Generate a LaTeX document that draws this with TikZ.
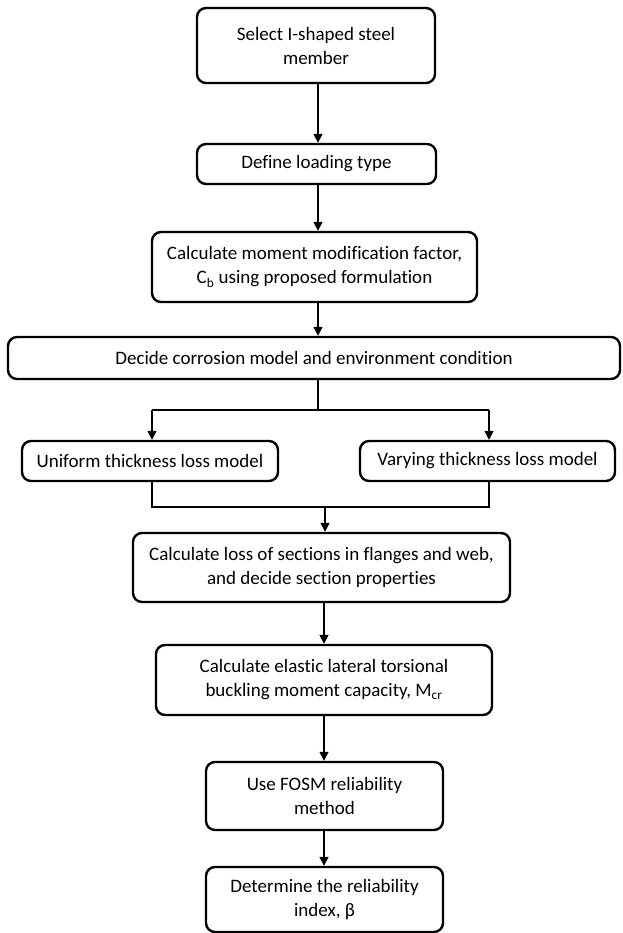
\documentclass[tikz,border=0pt]{standalone}
\usepackage{fontspec}
\setmainfont{Carlito}[Ligatures=NoCommon]
\usetikzlibrary{arrows.meta}
\tikzset{
  box/.style={draw=black, line width=2.4pt, rounded corners=9pt, align=center, inner sep=0pt,
    font=\fontsize{19}{24}\selectfont},
  conn/.style={line width=1.6pt},
  arr/.style={conn, -{Triangle[length=9pt,width=9pt]}}
}
\begin{document}
\begin{tikzpicture}[x=1pt,y=-1pt]
\useasboundingbox (0,0) rectangle (622,933);
\node[box, minimum width=238pt, minimum height=75pt] (sel) at (316,45.5) {Select I-shaped steel\\member};
\node[box, minimum width=239pt, minimum height=40pt] (def) at (316.5,164) {Define loading type};
\node[box, minimum width=325pt, minimum height=70pt] (mom) at (314.5,267) {Calculate moment modification factor,\\C\textsubscript{b} using proposed formulation};
\node[box, minimum width=612pt, minimum height=42pt] (dec) at (314,358) {Decide corrosion model and environment condition};
\node[box, minimum width=256pt, minimum height=40pt] (uni) at (150,461) {Uniform thickness loss model};
\node[box, minimum width=255pt, minimum height=40pt] (var) at (487.5,461) {Varying thickness loss model};
\node[box, minimum width=377pt, minimum height=69pt] (loss) at (321.5,567.5) {Calculate loss of sections in flanges and web,\\and decide section properties};
\node[box, minimum width=336pt, minimum height=70pt] (ela) at (324,680) {Calculate elastic lateral torsional\\buckling moment capacity, M\textsubscript{cr}};
\node[box, minimum width=237pt, minimum height=68pt] (fosm) at (324.5,796) {Use FOSM reliability\\method};
\node[box, minimum width=237pt, minimum height=65pt] (det) at (324.5,899.5) {Determine the reliability\\index, β};

\coordinate (s1) at (318,83);
\coordinate (split) at (318,410);
\coordinate (sl) at (152,410);
\coordinate (sr) at (489,410);
\coordinate (ml) at (152,507);
\coordinate (mr) at (489,507);
\coordinate (mc) at (325,507);

\draw[arr] (sel.south -| s1) -- (def.north -| s1);
\draw[arr] (def.south -| s1) -- (mom.north -| s1);
\draw[arr] (mom.south -| s1) -- (dec.north -| s1);
\draw[conn] (dec.south -| split) -- (split);
\draw[conn] (sl) -- (sr);
\draw[arr] (sl) -- (uni.north -| sl);
\draw[arr] (sr) -- (var.north -| sr);
\draw[conn] (uni.south -| ml) -- (ml) -- (mr) -- (var.south -| mr);
\draw[arr] (mc) -- (loss.north -| mc);
\draw[arr] (loss.south -| ela) -- (ela.north);
\draw[arr] (ela.south) -- (ela.south |- fosm.north);
\draw[arr] (fosm.south -| ela) -- (det.north -| ela);
\end{tikzpicture}
\end{document}
